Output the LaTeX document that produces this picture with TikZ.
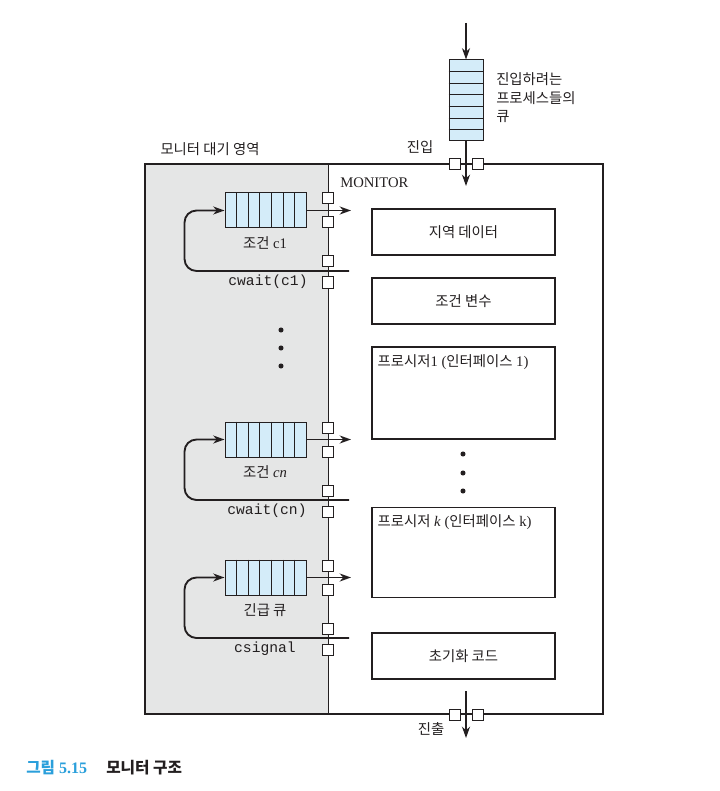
\documentclass[tikz,border=0pt]{standalone}
\usepackage{fontspec}
\setmainfont{Liberation Serif}
\setmonofont{Liberation Mono}
\newfontfamily\kr{Noto Sans CJK KR}[Scale=0.98]
\usetikzlibrary{arrows.meta, positioning, calc}
\definecolor{ink}{HTML}{231F20}
\definecolor{qfill}{HTML}{D4ECF9}
\definecolor{waitbg}{HTML}{E5E6E6}
\definecolor{capblue}{HTML}{2A9FDB}
\tikzset{
  lbl/.style={inner sep=0pt, font=\fontsize{11}{13.9}\selectfont, text=ink},
  gate/.style={draw=ink, fill=white, line width=0.75pt, minimum size=8.25pt, inner sep=0pt},
  hq/.style={draw=ink, fill=qfill, line width=0.75pt, minimum width=60.75pt,
             minimum height=26.25pt, inner sep=0pt},
  vq/.style={draw=ink, fill=qfill, line width=0.75pt, minimum width=25.5pt,
             minimum height=60.75pt, inner sep=0pt},
  mbox/.style={draw=ink, line width=0.95pt, minimum width=137.25pt, minimum height=34.5pt,
               inner sep=0pt, font=\fontsize{11}{13.9}\selectfont, text=ink},
  fl/.style={-{Stealth[length=8.5pt, width=6pt]}, line width=1.4pt, draw=ink},
}

\begin{document}
\begin{tikzpicture}[x=0.75pt, y=-0.75pt]
  \useasboundingbox (0,0) rectangle (719,791);
  % monitor frame and waiting area
  \node[fill=waitbg, minimum width=137.25pt, minimum height=412.5pt, inner sep=0pt] (wait) at (236.5,439) {};
  \node[draw=ink, line width=0.95pt, minimum width=343.5pt, minimum height=412.5pt, inner sep=0pt] (mon) at (374,439) {};
  \draw[ink, line width=0.95pt] (wait.north east) -- (wait.south east);

  % entrance queue
  \node[vq] (eq) at (466,100.5) {};
  \foreach \i in {1,...,6}
    \draw[ink, line width=0.6pt] ($(eq.north west)!\i/7!(eq.south west)$) -- ($(eq.north east)!\i/7!(eq.south east)$);
  \coordinate (src) at (466,23);
  \coordinate (in) at (466,186);
  \draw[fl] (src) -- (eq);
  \draw[fl] (eq) -- (in);
  \node[gate] (g1) at (454.5,164.5) {};
  \node[gate] (g2) at (477.5,164.5) {};

  % exit
  \coordinate (xa) at (466,691);
  \coordinate (xb) at (466,738);
  \draw[fl] (xa) -- (xb);
  \node[gate] (gx1) at (455,714.5) {};
  \node[gate] (gx2) at (478,714.5) {};

  % condition queues and urgent queue
  \foreach \dy/\id/\lab/\cmd/\cx in {0/a/{{\kr 조건} c1}/{cwait(c1)}/268,
      229/b/{{\kr 조건} \textit{cn}}/{cwait(cn)}/267, 367/c/{{\kr 긴급 큐}}/{csignal}/265} {
    \node[hq] (q\id) at (265.5,210.5+\dy) {};
    \foreach \i in {1,...,6}
      \draw[ink, line width=0.6pt] ($(q\id.north west)!\i/7!(q\id.north east)$) -- ($(q\id.south west)!\i/7!(q\id.south east)$);
    \node[lbl] (l\id) at (265,243+\dy) {\lab};
    \node[lbl, font=\fontsize{11}{13}\ttfamily] (w\id) at (\cx,282+\dy) {\cmd};
    \coordinate (o\id) at (351,210.5+\dy);
    \coordinate (r\id) at (349,271+\dy);
    \draw[fl] (q\id) -- (o\id);
    \draw[fl, rounded corners=9pt] (r\id) -| ($(q\id.west)+(-40,0)$) -- (q\id.west);
    \foreach \k/\gy in {1/198.5, 2/222.5, 3/261.5, 4/282.5}
      \node[gate] (g\id\k) at (328,\gy+\dy) {};
  }
  \foreach \y in {330,348,366} \fill[ink] (281,\y) circle (1.9pt);

  % monitor contents
  \node[mbox] (loc) at (463.5,232) {{\kr 지역 데이터}};
  \node[mbox] (cv) at (463.5,301) {{\kr 조건 변수}};
  \node[mbox, minimum height=69pt] (p1) at (463.5,393) {};
  \node[mbox, minimum height=67pt] (pk) at (463.5,552.5) {};
  \node[mbox] (init) at (463.5,656) {{\kr 초기화 코드}};
  \node[lbl, anchor=west] (p1t) at ($(p1.north west)+(6,16)$) {{\kr 프로시저}1 ({\kr 인터페이스} 1)};
  \node[lbl, anchor=west] (pkt) at ($(pk.north west)+(6,15)$) {{\kr 프로시저} \textit{k} ({\kr 인터페이스} k)};
  \foreach \y in {454,473,491} \fill[ink] (463,\y) circle (1.9pt);

  % labels
  \node[lbl] (wl) at (210,149) {{\kr 모니터 대기 영역}};
  \node[lbl] (enl) at (420,147) {{\kr 진입}};
  \node[lbl, anchor=west, align=left, font=\fontsize{11}{13.9}\selectfont\kr] (eql) at (496,98) {진입하려는\\프로세스들의\\큐};
  \node[lbl, anchor=west] (mt) at (340,183) {MONITOR};
  \node[lbl] (exl) at (431,729) {{\kr 진출}};

  % caption
  \node[lbl, anchor=west, text=capblue, font=\fontsize{12}{14}\bfseries] (cap) at (26,768) {{\kr 그림} 5.15};
  \node[lbl, anchor=west, font=\fontsize{12}{14}\bfseries] (capt) at (106,768) {{\kr 모니터 구조}};
\end{tikzpicture}
\end{document}
